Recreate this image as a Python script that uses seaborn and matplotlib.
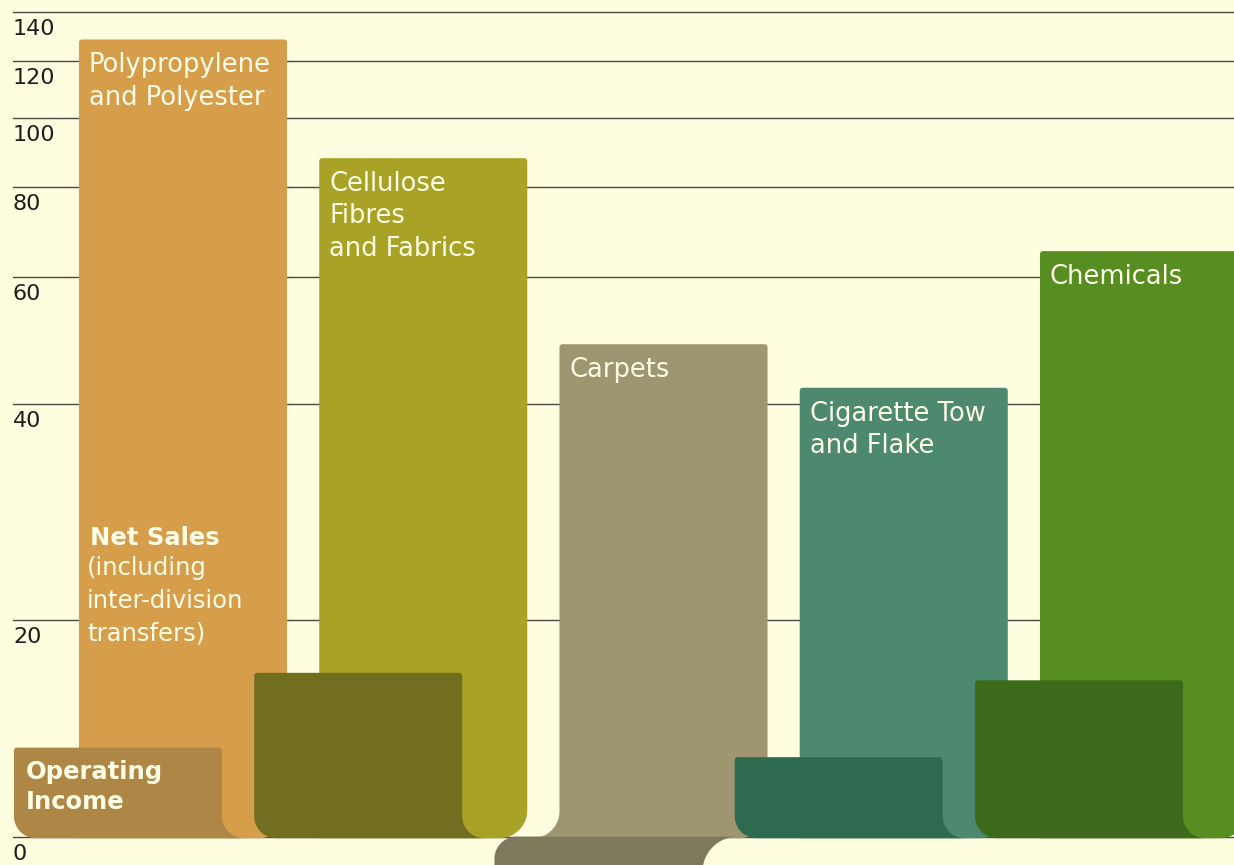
import numpy as np
import matplotlib
matplotlib.use("Agg")
import matplotlib.pyplot as plt
import matplotlib.transforms as mtransforms
from matplotlib.patches import Polygon
from matplotlib.ticker import NullLocator
import seaborn as sns

# ---------------- data ----------------
divisions = ["Polypropylene\nand Polyester", "Cellulose\nFibres\nand Fabrics",
             "Carpets", "Cigarette Tow\nand Flake", "Chemicals"]
net_sales = [128.4, 87.8, 48.4, 42.1, 65.2]
operating_income = [13.3, 16.9, 8.5, 12.9, 16.5]
baseline = 10                      # the axis level labelled "0"
tick_values = [10, 20, 40, 60, 80, 100, 120, 140]
tick_labels = ["0", "20", "40", "60", "80", "100", "120", "140"]

net_colors = ["#D69E4A", "#A8A226", "#9E9670", "#4C896E", "#568E22"]
op_colors = ["#AE8646", "#726E20", "#7D7A5C", "#2E6A4F", "#3D6B1B"]

BG = "#FEFDE0"
TXT = "#FFFDE6"
GRID = "#4a4a40"

sns.set_theme(style="white")
plt.rcParams["font.family"] = ["DejaVu Sans"]

W_PX, H_PX = 1234, 865
fig = plt.figure(figsize=(W_PX / 100, H_PX / 100), dpi=100, facecolor=BG)
ax = fig.add_axes([0, 0, 1, 1])
ax.set_facecolor(BG)

pos = np.arange(len(divisions))
W = 0.866
OFF = -0.2706

n0 = len(ax.patches)
sns.barplot(x=pos, y=net_sales, hue=divisions, palette=dict(zip(divisions, net_colors)),
            native_scale=True, width=W, dodge=False, errorbar=None, saturation=1,
            legend=False, ax=ax)
net_rects = sorted(ax.patches[n0:], key=lambda r: r.get_x())
n1 = len(ax.patches)
sns.barplot(x=pos + OFF, y=operating_income, hue=divisions,
            palette=dict(zip(divisions, op_colors)),
            native_scale=True, width=W, dodge=False, errorbar=None, saturation=1,
            legend=False, ax=ax)
op_rects = sorted(ax.patches[n1:], key=lambda r: r.get_x())

ax.set_yscale("log", base=2)
ax.set_ylim(9.134, 145.7)
ax.set_xlim(-0.7617, 4.3746)

inv = ax.transData.inverted()


def px(x, y):
    return ax.transData.transform((x, y))


def arc(cx, cy, r, a0, a1, n=24):
    t = np.radians(np.linspace(a0, a1, n))
    return [(cx + r * np.cos(a), cy + r * np.sin(a)) for a in t]


R_NET, R_OP, F_OP, R_NEG, F_NEG, F_FLARE = 28, 22, 22, 22, 35, 27
DROP = 1.5   # bars sit a hair below the zero line, hiding it
TOPR = 3     # slight rounding of the top corners

# net sales bars
for rect, v, c, op in zip(net_rects, net_sales, net_colors, operating_income):
    x0, x1 = rect.get_x(), rect.get_x() + rect.get_width()
    Xl, Yb = px(x0, baseline)
    Xr, Yt = px(x1, v)
    Yb -= DROP
    pts = []
    if op < baseline:
        pts += arc(Xl - F_FLARE, Yb + F_FLARE, F_FLARE, -90, 0)
    else:
        pts.append((Xl, Yb))
    pts += arc(Xl + TOPR, Yt - TOPR, TOPR, 180, 90, 6)
    pts += arc(Xr - TOPR, Yt - TOPR, TOPR, 90, 0, 6)
    pts += arc(Xr - R_NET, Yb + R_NET, R_NET, 0, -90)
    ax.add_patch(Polygon(inv.transform(pts), closed=True, facecolor=c,
                         edgecolor="none", zorder=2))
    rect.remove()

# operating income bars
for rect, v, c in zip(op_rects, operating_income, op_colors):
    x0, x1 = rect.get_x(), rect.get_x() + rect.get_width()
    Xl, Yb = px(x0, baseline)
    Xr, Yt = px(x1, v)
    if v >= baseline:
        Yb -= DROP
        pts = arc(Xl + TOPR, Yt - TOPR, TOPR, 90, 180, 6)
        pts += arc(Xl + R_OP, Yb + R_OP, R_OP, 180, 270)
        pts += arc(Xr + F_OP, Yb + F_OP, F_OP, 270, 180)
        pts += arc(Xr - TOPR, Yt - TOPR, TOPR, 0, 90, 6)
    else:
        pts = [(Xl, Yt)]
        pts += arc(Xl + R_NEG, Yb - R_NEG, R_NEG, 180, 90)
        pts += arc(Xr + F_NEG, Yb - F_NEG, F_NEG, 90, 180)
        pts += [(Xr, Yt)]
    ax.add_patch(Polygon(inv.transform(pts), closed=True, facecolor=c,
                         edgecolor="none", zorder=3))
    rect.remove()

# grid lines
for v in tick_values:
    ax.axhline(v, xmin=13 / W_PX, xmax=1, color=GRID, lw=1.0, zorder=1)

# y tick labels inside the plot, just under each line
ax.set_yticks(tick_values, tick_labels)
ax.yaxis.set_minor_locator(NullLocator())
ax.set_xticks([])
ax.tick_params(axis="y", which="both", length=0, pad=-13 * 0.72, labelsize=16,
               labelcolor="#1e1e1e")
shift = mtransforms.ScaledTranslation(0, -0.07, fig.dpi_scale_trans)
for lab in ax.get_yticklabels():
    lab.set_ha("left")
    lab.set_va("top")
    lab.set_transform(lab.get_transform() + shift)
for s in ax.spines.values():
    s.set_visible(False)
ax.grid(False)
ax.set_xlabel("")
ax.set_ylabel("")

# division labels inside the net sales bars
for rect, name, v in zip(net_rects, divisions, net_sales):
    ax.annotate(name, xy=(rect.get_x(), v), xycoords="data", xytext=(10, -13),
                textcoords="offset pixels", ha="left", va="top", color=TXT,
                fontsize=18.5, linespacing=1.31, zorder=6)


def fpos(x, y):
    return x / W_PX, 1 - y / H_PX


fig.text(*fpos(90, 526), "Net Sales", fontsize=17.5, fontweight="bold", color=TXT,
         ha="left", va="top", zorder=6)
fig.text(*fpos(87, 556), "(including\ninter-division\ntransfers)", fontsize=17.5,
         color=TXT, ha="left", va="top", linespacing=1.45, zorder=6)
fig.text(*fpos(26, 760), "Operating\nIncome", fontsize=17.5, fontweight="bold",
         color=TXT, ha="left", va="top", linespacing=1.32, zorder=6)

fig.savefig("out.png", dpi=100, facecolor=BG)
